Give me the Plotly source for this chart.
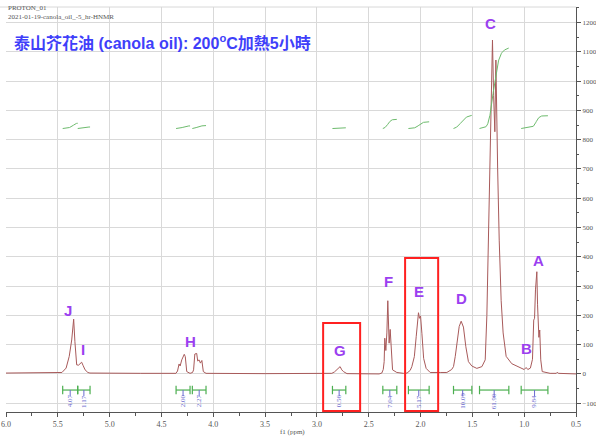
import numpy as np
import plotly.graph_objects as go

# ---------------- data ----------------
ppm = [6.00, 5.70, 5.50, 5.46, 5.42, 5.39, 5.366, 5.355, 5.347, 5.335, 5.318, 5.30, 5.286, 5.27, 5.255, 5.237, 5.21, 5.19,
       4.70, 4.36, 4.345, 4.33, 4.32, 4.304, 4.28, 4.27, 4.256, 4.224, 4.20, 4.19, 4.178, 4.16, 4.15, 4.137, 4.124, 4.11, 4.096, 4.07,
       3.50, 2.90, 2.856, 2.83, 2.81, 2.776, 2.76, 2.744, 2.71, 2.60,
       2.40, 2.374, 2.36, 2.351, 2.345, 2.335, 2.325, 2.316, 2.303, 2.293, 2.284, 2.27, 2.229, 2.165,
       2.13, 2.10, 2.084, 2.06, 2.042, 2.03, 2.02, 2.01, 2.00, 1.987, 1.97, 1.946, 1.907, 1.81,
       1.746, 1.70, 1.682, 1.665, 1.65, 1.627, 1.608, 1.586, 1.563, 1.538, 1.505, 1.457, 1.408, 1.376,
       1.36, 1.345, 1.33, 1.323, 1.306, 1.295, 1.283, 1.273, 1.264, 1.256, 1.241, 1.222, 1.203, 1.174, 1.12, 1.05,
       1.00, 0.981, 0.965, 0.94, 0.92, 0.908, 0.90, 0.891, 0.878, 0.871, 0.864, 0.858, 0.85, 0.84, 0.826,
       0.75, 0.69, 0.68, 0.67, 0.50]
intensity = [3, 3, 3, 5, 20, 60, 116, 150, 187, 110, 31, 30, 34, 40, 28, 14, 5, 3,
             2, 2, 10, 34, 27, 48, 67, 59, 8, 2, 5, 14, 68, 70, 44, 48, 37, 46, 8, 2,
             1, 1, 2, 7, 14, 25, 14, 8, 1, 0,
             0, 3, 15, 42, 122, 80, 140, 250, 105, 152, 80, 14, 5, 2,
             3, 12, 25, 59, 127, 184, 209, 190, 198, 139, 53, 19, 5, 5,
             5, 15, 25, 60, 105, 162, 180, 160, 93, 42, 27, 19, 25, 48,
             200, 457, 750, 850, 1140, 950, 827, 1072, 800, 700, 457, 250, 140, 60, 35, 22,
             15, 22, 15, 20, 50, 184, 190, 287, 349, 236, 150, 125, 150, 48, 8,
             2, 2, 6, 2, 0]

# integration regions (ppm, high -> low) and values
int_hi = [5.453, 5.308, 4.359, 4.202, 2.850, 2.364, 2.117, 1.682, 1.431, 1.029]
int_lo = [5.308, 5.189, 4.224, 4.070, 2.721, 2.229, 1.917, 1.505, 1.148, 0.771]
int_val = [4.07, 1.17, 2.00, 2.27, 0.56, 7.04, 5.17, 10.09, 61.90, 9.84]
int_lbl = ["4.07", "1.17", "2.00", "2.27", "0.56", "7.04", "5.17", "10.09", "61.90", "9.84"]

# peak labels
peak_lbl = ["J", "I", "H", "G", "F", "E", "D", "C", "B", "A"]
peak_x = [5.402, 5.257, 4.224, 2.776, 2.313, 2.013, 1.608, 1.328, 0.981, 0.865]
peak_y = [215, 85, 112, 81, 317, 280, 256, 1198, 88, 386]

# highlight boxes (ppm range, intensity range)
box_x0 = [2.940, 2.149]
box_x1 = [2.583, 1.830]
box_y0 = [-127, -127]
box_y1 = [174, 396]

SPEC = "#a85a5a"
GREEN = "#4caf50"
BLUE_T = "#6a6acf"
SERIF = "Liberation Serif, DejaVu Serif, serif"

fig = go.Figure()
fig.add_trace(go.Scatter(x=ppm, y=intensity, mode="lines",
                         line=dict(color=SPEC, width=1), hoverinfo="skip"))

order = np.argsort(ppm)
ps = np.array(ppm)[order]
ins = np.array(intensity)[order]
for hi, lo, v in zip(int_hi, int_lo, int_val):
    g = np.linspace(hi, lo, 120)
    s = np.interp(g, ps, ins)
    c = np.cumsum(s)
    c = c / c[-1]
    fig.add_trace(go.Scatter(x=g, y=838 + c * v * 4.44, mode="lines",
                             line=dict(color="#6dbb6d", width=1), hoverinfo="skip"))

for hi, lo, lbl in zip(int_hi, int_lo, int_lbl):
    mid = (hi + lo) / 2
    fig.add_trace(go.Scatter(x=[hi, lo], y=[-55, -55], mode="lines+markers",
                             line=dict(color=GREEN, width=1.2),
                             marker=dict(symbol="line-ns", size=6, line=dict(color=GREEN, width=1.2)),
                             hoverinfo="skip"))
    fig.add_trace(go.Scatter(x=[mid, mid], y=[-55, -76], mode="lines",
                             line=dict(color=BLUE_T, width=1), hoverinfo="skip"))
    fig.add_annotation(x=mid, y=-93, text=lbl, showarrow=False, textangle=-90,
                       font=dict(family=SERIF, size=7, color=BLUE_T))

for t, x, y in zip(peak_lbl, peak_x, peak_y):
    fig.add_annotation(x=x, y=y, text="<b>%s</b>" % t, showarrow=False,
                       font=dict(family="Liberation Sans, Arial, sans-serif", size=15, color="#9b3ff0"))

for x0, x1, y0, y1 in zip(box_x0, box_x1, box_y0, box_y1):
    fig.add_shape(type="rect", x0=x0, x1=x1, y0=y0, y1=y1, xref="x", yref="y",
                  line=dict(color="#ff2020", width=2))

# top frame line
fig.add_shape(type="line", xref="paper", yref="paper", x0=-0.02, x1=1, y0=1, y1=1,
              line=dict(color="#d8d8d8", width=1))

fig.add_annotation(xref="paper", yref="paper", x=0.0, y=0.9975, xanchor="left", yanchor="middle",
                   text="PROTON_01", showarrow=False, font=dict(family=SERIF, size=7, color="#555"))
fig.add_annotation(xref="paper", yref="paper", x=0.0, y=0.9753, xanchor="left", yanchor="middle",
                   text="2021-01-19-canola_oil_-5_hr-HNMR", showarrow=False,
                   font=dict(family=SERIF, size=7, color="#555"))
fig.add_annotation(xref="paper", yref="paper", x=0.0105, y=0.9136, xanchor="left", yanchor="middle",
                   text="<b>泰山芥花油 (canola oil): 200<sup>o</sup>C加熱5小時</b>", showarrow=False,
                   font=dict(family="Liberation Sans, Arial, Noto Sans CJK TC, sans-serif", size=16, color="#3f3ffa"))
fig.add_annotation(xref="paper", yref="paper", x=0.502, y=-0.049, xanchor="center", yanchor="middle",
                   text="f1 (ppm)", showarrow=False, font=dict(family=SERIF, size=7, color="#555"))

fig.update_layout(
    width=596, height=439,
    margin=dict(l=6, r=20, t=7, b=27, autoexpand=False),
    paper_bgcolor="white", plot_bgcolor="white",
    showlegend=False,
    xaxis=dict(range=[6.0, 0.5], autorange=False, dtick=0.5, tick0=0.5, tickformat=".1f",
               automargin=False,
               showgrid=True, gridcolor="#d9d9d9", gridwidth=1,
               showline=True, linecolor="#555", linewidth=1,
               ticks="outside", ticklen=4, tickcolor="#555",
               minor=dict(dtick=0.25, ticks="outside", ticklen=3, tickcolor="#555", showgrid=False),
               tickfont=dict(family=SERIF, size=8, color="#555"), zeroline=False),
    yaxis=dict(range=[-130, 1253], autorange=False, side="right", dtick=100, tick0=0,
               automargin=False,
               showgrid=True, gridcolor="#d9d9d9", gridwidth=1,
               showline=True, linecolor="#555", linewidth=1,
               ticks="outside", ticklen=4, tickcolor="#555",
               minor=dict(dtick=50, ticks="outside", ticklen=2, tickcolor="#555", showgrid=False),
               tickfont=dict(family=SERIF, size=7, color="#555"), zeroline=False),
)

fig.write_html("out.html")
